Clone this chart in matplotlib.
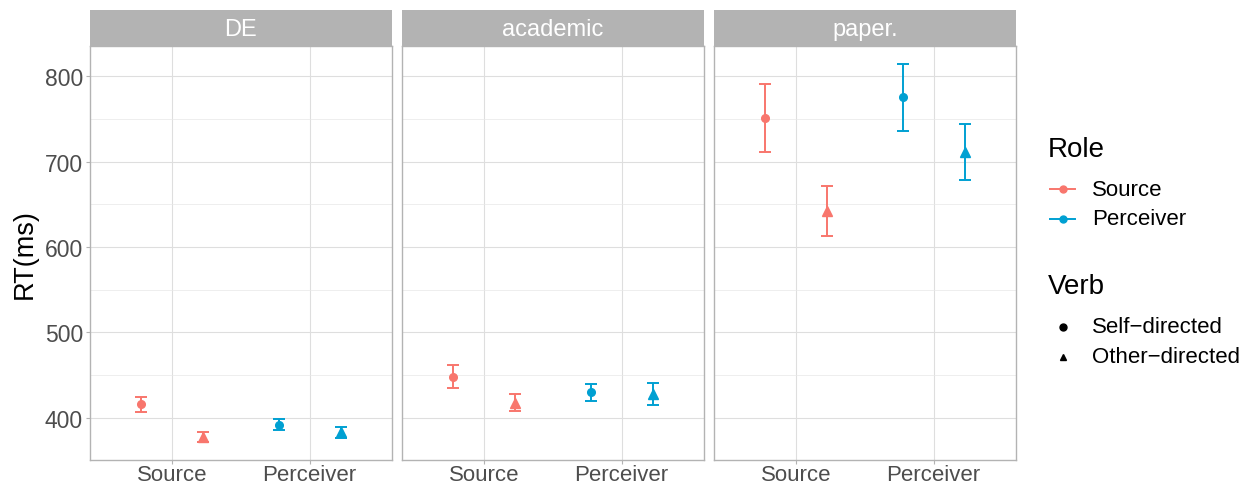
import matplotlib
matplotlib.use("Agg")
import matplotlib.pyplot as plt
from matplotlib.lines import Line2D

plt.rcParams['font.family'] = ['Liberation Sans', 'DejaVu Sans']

# mean RT and error half-widths per panel
panels = ["DE", "academic", "paper."]
roles = ["Source", "Perceiver"]
verbs = ["Self-directed", "Other-directed"]
verb_labels = ["Self\u2212directed", "Other\u2212directed"]

# rows: panel, columns: (Source/Self, Source/Other, Perceiver/Self, Perceiver/Other)
rt_mean = [
    [416, 378, 392, 383],
    [448, 418, 430, 428],
    [751, 642, 775, 711],
]
rt_err = [
    [9, 6, 6.5, 6.5],
    [13.5, 10, 10, 13],
    [39.5, 29, 39, 33],
]

role_colors = {"Source": "#F8766D", "Perceiver": "#00A0D2"}
verb_markers = {"Self-directed": "o", "Other-directed": "^"}
dodge = 0.225

W, H = 1244, 489
fig = plt.figure(figsize=(W / 100, H / 100), dpi=100)

lefts = [90, 402, 714]
pw = 302
p_top, p_bot = 47, 461
s_top = 11

for i, name in enumerate(panels):
    ax = fig.add_axes([lefts[i] / W, (H - p_bot) / H, pw / W, (p_bot - p_top) / H])
    k = 0
    for r, role in enumerate(roles):
        for v, verb in enumerate(verbs):
            x = r + 1 + (-dodge if v == 0 else dodge)
            ax.errorbar(x, rt_mean[i][k], yerr=rt_err[i][k], color=role_colors[role],
                        marker=verb_markers[verb], markersize=5.5 if v == 0 else 6.5,
                        capsize=4, elinewidth=1.4, capthick=1.4, zorder=3)
            k += 1
    ax.set_xlim(0.4, 2.6)
    ax.set_ylim(350.8, 835.2)
    ax.set_xticks([1, 2])
    ax.set_xticklabels(roles)
    ax.set_yticks([400, 500, 600, 700, 800])
    ax.set_yticks([450, 550, 650, 750], minor=True)
    ax.grid(True, which='major', color='#DEDEDE', linewidth=0.8)
    ax.grid(True, which='minor', color='#E8E8E8', linewidth=0.5)
    ax.set_axisbelow(True)
    for s in ax.spines.values():
        s.set_color('#B3B3B3')
        s.set_linewidth(1.0)
    ax.tick_params(which='major', color='#B3B3B3', length=3, labelsize=16.5,
                   labelcolor='#4D4D4D', pad=2)
    ax.tick_params(axis='x', which='major', labelsize=16, pad=0)
    ax.tick_params(which='minor', length=0)
    if i == 0:
        ax.set_ylabel("RT(ms)", fontsize=19.5, labelpad=5)
    else:
        ax.tick_params(axis='y', which='major', length=0, labelleft=False)

    # facet strip
    sax = fig.add_axes([lefts[i] / W, (H - p_top) / H, pw / W, (p_top - s_top) / H])
    sax.set_facecolor('#B3B3B3')
    sax.set_xticks([])
    sax.set_yticks([])
    for s in sax.spines.values():
        s.set_visible(False)
    sax.text(0.5, 0.48, name, ha='center', va='center', color='white', fontsize=17,
             transform=sax.transAxes)


# legends, placed in pixel coordinates measured from the top-left
def fx(px):
    return px / W


def fy(py):
    return 1 - py / H


fig.text(fx(1048), fy(150), "Role", fontsize=20, va='center', ha='left')
for j, role in enumerate(roles):
    yy = 190 + 30 * j
    fig.add_artist(Line2D([fx(1050), fx(1075)], [fy(yy), fy(yy)], color=role_colors[role],
                          linewidth=1.4))
    fig.add_artist(Line2D([fx(1062.5)], [fy(yy)], color=role_colors[role], marker='o',
                          markersize=5, linestyle='none'))
    fig.text(fx(1092), fy(yy), role, fontsize=16, va='center', ha='left')

fig.text(fx(1048), fy(287), "Verb", fontsize=20, va='center', ha='left')
for j, verb in enumerate(verbs):
    yy = 328 + 30 * j
    fig.add_artist(Line2D([fx(1062.5)], [fy(yy)], color='black', marker=verb_markers[verb],
                          markersize=5, linestyle='none'))
    fig.text(fx(1092), fy(yy), verb_labels[j], fontsize=16, va='center', ha='left')

fig.savefig("out.png", dpi=100, facecolor='white')
